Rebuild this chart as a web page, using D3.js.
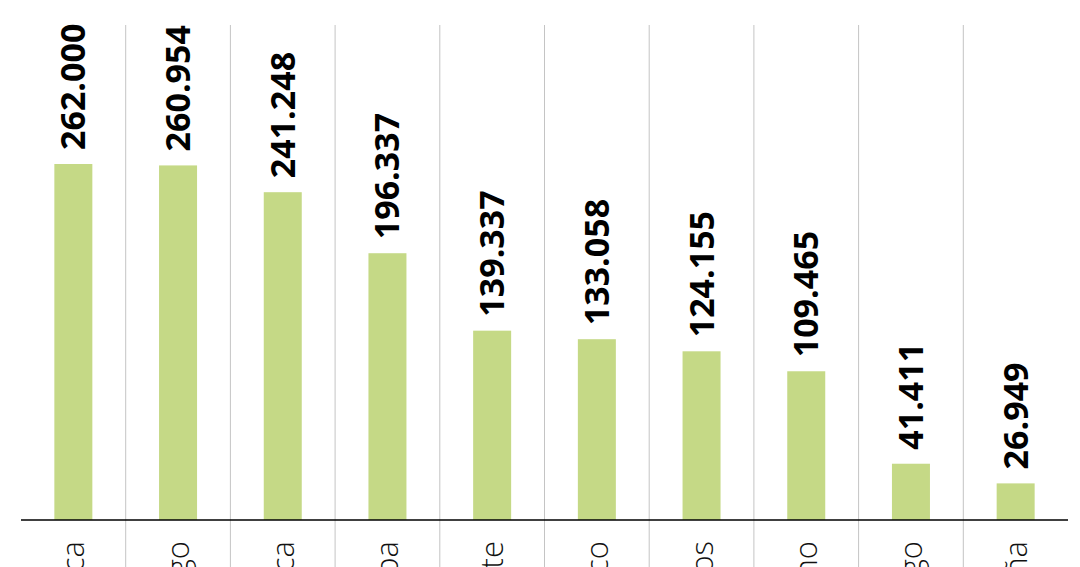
<!DOCTYPE html>
<html><head><meta charset="utf-8">
<script src="https://cdn.jsdelivr.net/npm/d3@7"></script>
<style>body{margin:0;background:#fff;}svg{display:block;}</style>
</head><body>
<script>
const categories = ["Salamanca","Santiago","Mallorca","Europa","Alicante","Pacífico","Canarios","Invierno","Lugo","España"];
const values = [262.000, 260.954, 241.248, 196.337, 139.337, 133.058, 124.155, 109.465, 41.411, 26.949];
const valueLabels = ["262.000","260.954","241.248","196.337","139.337","133.058","124.155","109.465","41.411","26.949"];

const W = 1080, H = 567;
const mLeft = 21, mRight = 1068, base = 520, mTop = 25;
const svg = d3.select("body").append("svg").attr("width", W).attr("height", H);

const x = d3.scaleBand().domain(categories).range([mLeft, mRight]).paddingInner(0).paddingOuter(0);
const y = d3.scaleLinear().domain([0, 364.3]).range([base, mTop]);
const barW = 38;

// vertical separators
svg.append("g").selectAll("line").data(categories.slice(1)).join("line")
  .attr("x1", d => x(d)).attr("x2", d => x(d))
  .attr("y1", mTop).attr("y2", H)
  .attr("stroke", "#c4c4c4").attr("stroke-width", 1);

svg.append("g").selectAll("rect").data(values).join("rect")
  .attr("x", (d, i) => x(categories[i]) + x.bandwidth() / 2 - barW / 2)
  .attr("width", barW)
  .attr("y", d => y(d))
  .attr("height", d => base - y(d))
  .attr("fill", "#c5d986");

// baseline
svg.append("line").attr("x1", mLeft).attr("x2", mRight).attr("y1", base).attr("y2", base)
  .attr("stroke", "#000").attr("stroke-width", 1.3);

// value labels
svg.append("g").selectAll("text").data(values).join("text")
  .attr("transform", (d, i) => `translate(${x(categories[i]) + x.bandwidth() / 2 + 12},${y(d) - 14}) rotate(-90)`)
  .attr("font-family", "'Open Sans', sans-serif")
  .attr("font-weight", 700)
  .attr("font-size", 34)
  .attr("fill", "#000")
  .text((d, i) => valueLabels[i]);

// category labels (cut off at the bottom edge, as in the reference)
svg.append("g").selectAll("text").data(categories).join("text")
  .attr("transform", d => `translate(${x(d) + x.bandwidth() / 2 + 11},541) rotate(-90)`)
  .attr("text-anchor", "end")
  .attr("font-family", "'Open Sans', sans-serif")
  .attr("font-weight", 300)
  .attr("font-size", 31)
  .attr("fill", "#111")
  .text(d => d);
</script>
</body></html>
